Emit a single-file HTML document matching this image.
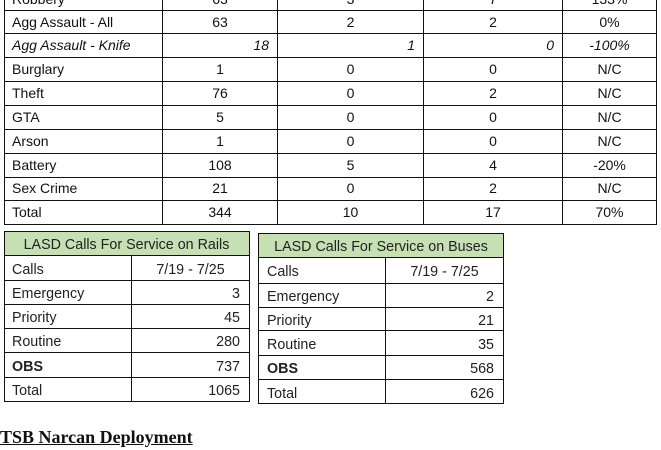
<!DOCTYPE html>
<html><head><style>
body{margin:0;width:661px;height:450px;background:#fff;position:relative;overflow:hidden;font-family:"Liberation Sans",sans-serif;color:#111}
.h{position:absolute;background:#111;height:1.4px}
.v{position:absolute;background:#111;width:1.4px}
.t{position:absolute;font-size:14px;line-height:15px;white-space:nowrap}
.c{text-align:center}
.r{text-align:right}
.i{font-style:italic}
.g{position:absolute;background:#c6e0b4}
.s{font-size:14.3px;color:#222;margin-top:2px}
</style></head><body>
<div class="v" style="left:4px;top:0;height:225px"></div>
<div class="v" style="left:162px;top:0;height:225px"></div>
<div class="v" style="left:277px;top:0;height:225px"></div>
<div class="v" style="left:423px;top:0;height:225px"></div>
<div class="v" style="left:562px;top:0;height:225px"></div>
<div class="v" style="left:656px;top:0;height:225px"></div>
<div class="h" style="left:4px;width:653px;top:9.5px"></div>
<div class="h" style="left:4px;width:653px;top:33px"></div>
<div class="h" style="left:4px;width:653px;top:57px"></div>
<div class="h" style="left:4px;width:653px;top:81px"></div>
<div class="h" style="left:4px;width:653px;top:105px"></div>
<div class="h" style="left:4px;width:653px;top:129px"></div>
<div class="h" style="left:4px;width:653px;top:153px"></div>
<div class="h" style="left:4px;width:653px;top:177px"></div>
<div class="h" style="left:4px;width:653px;top:200px"></div>
<div class="h" style="left:4px;width:653px;top:224px"></div>

<div class="t" style="left:12px;top:-8px">Robbery</div>
<div class="t c" style="left:163px;width:114px;top:-8px">63</div>
<div class="t c" style="left:278px;width:145px;top:-8px">3</div>
<div class="t c" style="left:424px;width:138px;top:-8px">7</div>
<div class="t c" style="left:563px;width:93px;top:-8px">133%</div>

<div class="t" style="left:12px;top:15px">Agg Assault - All</div>
<div class="t c" style="left:163px;width:114px;top:15px">63</div>
<div class="t c" style="left:278px;width:145px;top:15px">2</div>
<div class="t c" style="left:424px;width:138px;top:15px">2</div>
<div class="t c" style="left:563px;width:93px;top:15px">0%</div>

<div class="t i" style="left:12px;top:38px">Agg Assault - Knife</div>
<div class="t r i" style="left:163px;width:106px;top:38px">18</div>
<div class="t r i" style="left:278px;width:137px;top:38px">1</div>
<div class="t r i" style="left:424px;width:130px;top:38px">0</div>
<div class="t c i" style="left:563px;width:93px;top:38px">-100%</div>

<div class="t" style="left:12px;top:62px">Burglary</div>
<div class="t c" style="left:163px;width:114px;top:62px">1</div>
<div class="t c" style="left:278px;width:145px;top:62px">0</div>
<div class="t c" style="left:424px;width:138px;top:62px">0</div>
<div class="t c" style="left:563px;width:93px;top:62px">N/C</div>

<div class="t" style="left:12px;top:86px">Theft</div>
<div class="t c" style="left:163px;width:114px;top:86px">76</div>
<div class="t c" style="left:278px;width:145px;top:86px">0</div>
<div class="t c" style="left:424px;width:138px;top:86px">2</div>
<div class="t c" style="left:563px;width:93px;top:86px">N/C</div>

<div class="t" style="left:12px;top:110px">GTA</div>
<div class="t c" style="left:163px;width:114px;top:110px">5</div>
<div class="t c" style="left:278px;width:145px;top:110px">0</div>
<div class="t c" style="left:424px;width:138px;top:110px">0</div>
<div class="t c" style="left:563px;width:93px;top:110px">N/C</div>

<div class="t" style="left:12px;top:134px">Arson</div>
<div class="t c" style="left:163px;width:114px;top:134px">1</div>
<div class="t c" style="left:278px;width:145px;top:134px">0</div>
<div class="t c" style="left:424px;width:138px;top:134px">0</div>
<div class="t c" style="left:563px;width:93px;top:134px">N/C</div>

<div class="t" style="left:12px;top:158px">Battery</div>
<div class="t c" style="left:163px;width:114px;top:158px">108</div>
<div class="t c" style="left:278px;width:145px;top:158px">5</div>
<div class="t c" style="left:424px;width:138px;top:158px">4</div>
<div class="t c" style="left:563px;width:93px;top:158px">-20%</div>

<div class="t" style="left:12px;top:181px">Sex Crime</div>
<div class="t c" style="left:163px;width:114px;top:181px">21</div>
<div class="t c" style="left:278px;width:145px;top:181px">0</div>
<div class="t c" style="left:424px;width:138px;top:181px">2</div>
<div class="t c" style="left:563px;width:93px;top:181px">N/C</div>

<div class="t" style="left:12px;top:205px">Total</div>
<div class="t c" style="left:163px;width:114px;top:205px">344</div>
<div class="t c" style="left:278px;width:145px;top:205px">10</div>
<div class="t c" style="left:424px;width:138px;top:205px">17</div>
<div class="t c" style="left:563px;width:93px;top:205px">70%</div>

<div class="g" style="left:4px;top:231px;width:245px;height:24px"></div>
<div class="v" style="left:4px;top:231px;height:171px"></div>
<div class="v" style="left:249px;top:231px;height:171px"></div>
<div class="v" style="left:131px;top:255px;height:147px"></div>
<div class="h" style="left:4px;width:246px;top:231px"></div>
<div class="h" style="left:4px;width:246px;top:255px"></div>
<div class="h" style="left:4px;width:246px;top:280px"></div>
<div class="h" style="left:4px;width:246px;top:304px"></div>
<div class="h" style="left:4px;width:246px;top:328px"></div>
<div class="h" style="left:4px;width:246px;top:352px"></div>
<div class="h" style="left:4px;width:246px;top:377px"></div>
<div class="h" style="left:4px;width:246px;top:401px"></div>
<div class="t s c" style="left:4px;width:245px;top:236px">LASD Calls For Service on Rails</div>
<div class="t s" style="left:12px;top:261px">Calls</div>
<div class="t s c" style="left:132px;width:117px;top:261px">7/19 - 7/25</div>
<div class="t s" style="left:12px;top:285px">Emergency</div><div class="t s r" style="left:132px;width:108px;top:285px">3</div>
<div class="t s" style="left:12px;top:309px">Priority</div><div class="t s r" style="left:132px;width:108px;top:309px">45</div>
<div class="t s" style="left:12px;top:333px">Routine</div><div class="t s r" style="left:132px;width:108px;top:333px">280</div>
<div class="t s" style="left:12px;top:358px;font-weight:bold">OBS</div><div class="t s r" style="left:132px;width:108px;top:358px">737</div>
<div class="t s" style="left:12px;top:382px">Total</div><div class="t s r" style="left:132px;width:108px;top:382px">1065</div>

<div class="g" style="left:258px;top:233px;width:246px;height:24px"></div>
<div class="v" style="left:258px;top:233px;height:171px"></div>
<div class="v" style="left:503px;top:233px;height:171px"></div>
<div class="v" style="left:385px;top:257px;height:147px"></div>
<div class="h" style="left:258px;width:246px;top:233px"></div>
<div class="h" style="left:258px;width:246px;top:257px"></div>
<div class="h" style="left:258px;width:246px;top:283px"></div>
<div class="h" style="left:258px;width:246px;top:307px"></div>
<div class="h" style="left:258px;width:246px;top:330px"></div>
<div class="h" style="left:258px;width:246px;top:355px"></div>
<div class="h" style="left:258px;width:246px;top:379px"></div>
<div class="h" style="left:258px;width:246px;top:403px"></div>
<div class="t s c" style="left:258px;width:246px;top:238px">LASD Calls For Service on Buses</div>
<div class="t s" style="left:267px;top:263px">Calls</div>
<div class="t s c" style="left:386px;width:117px;top:263px">7/19 - 7/25</div>
<div class="t s" style="left:267px;top:288px">Emergency</div><div class="t s r" style="left:386px;width:108px;top:288px">2</div>
<div class="t s" style="left:267px;top:312px">Priority</div><div class="t s r" style="left:386px;width:108px;top:312px">21</div>
<div class="t s" style="left:267px;top:336px">Routine</div><div class="t s r" style="left:386px;width:108px;top:336px">35</div>
<div class="t s" style="left:267px;top:360px;font-weight:bold">OBS</div><div class="t s r" style="left:386px;width:108px;top:360px">568</div>
<div class="t s" style="left:267px;top:385px">Total</div><div class="t s r" style="left:386px;width:108px;top:385px">626</div>

<div class="t" style="left:0;top:428px;font-family:'Liberation Serif',serif;font-size:18px;font-weight:bold;text-decoration:underline;line-height:19px">TSB Narcan Deployment</div>
</body></html>
